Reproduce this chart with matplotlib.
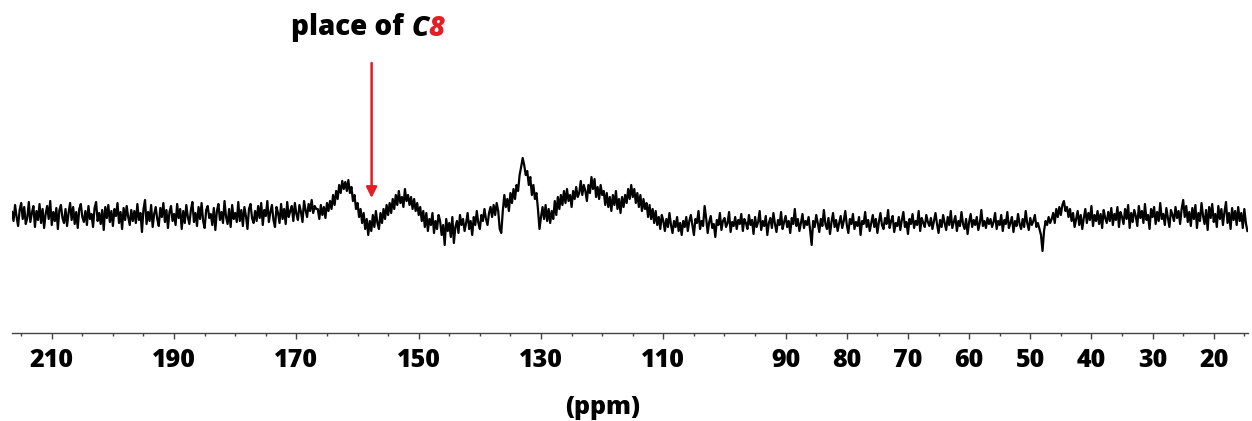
import numpy as np
import matplotlib
matplotlib.use("Agg")
import matplotlib.pyplot as plt

# ---- data ----
ppm_start, ppm_step = 216.5, 0.25
# each row covers 10 ppm (40 samples), from high ppm to low ppm
rows = [
    # 216.5 -> 206.75
    [3, -6, 10, -2, -11, 5, 12, -4, 8, -9, -3, 13, -7, 2, 9, -12, 4, -5, 11, -8,
     6, -13, 1, 9, -4, 14, -10, 3, -6, 7, -14, 5, 10, -3, -8, 6, -11, 2, 12, -5],
    # 206.5 -> 196.75
    [8, -9, 3, -13, 6, 11, -2, -7, 4, -10, 9, -4, 1, -12, 7, 13, -6, 2, -9, 5,
     -15, 8, -3, 10, -7, 4, -11, 6, -1, 12, -8, 3, -14, 7, -5, 9, -2, -10, 5, -6],
    # 196.5 -> 186.75
    [4, -8, 11, -5, 2, -17, 6, 15, -9, 3, -6, 10, -12, 1, 8, -4, -11, 7, -2, 12,
     -7, 5, -13, 3, 9, -6, 1, -10, 11, -3, 6, -14, 4, -8, 10, -2, -9, 5, 13, -7],
    # 186.5 -> 176.75
    [2, -11, 8, -4, 12, -6, -13, 5, 9, -3, 1, -10, 7, -15, 4, 11, -5, 3, -8, 14,
     -2, -9, 6, -12, 10, -4, 2, -7, 13, -6, 5, -11, 8, -1, -14, 6, 11, -3, -8, 4],
    # 176.5 -> 166.75
    [-6, 9, -3, 12, -10, 5, -1, 14, -7, 3, 10, -5, -12, 8, 2, -8, 11, -4, 6, -9,
     13, -2, 4, 9, -6, 12, 1, -5, 10, 3, -7, 14, 5, -2, 11, 4, 15, 2, 9, 6],
    # 166.5 -> 156.75
    [6, -4, 10, 0, 8, -3, 12, 4, 14, 6, 20, 10, 24, 16, 30, 22, 34, 26, 33, 24,
     35, 22, 28, 14, 20, 6, 12, -2, 6, -8, 2, -14, -4, -20, -6, -16, 0, -12, 4, -8],
    # 156.5 -> 146.75
    [-14, 2, -8, 6, -4, 10, 0, 12, 2, 16, 6, 20, 10, 24, 12, 18, 8, 26, 14, 20,
     10, 18, 6, 16, 4, 12, 0, 8, -6, 4, -12, 2, -16, -4, -10, 2, -18, -6, -14, 0],
    # 146.5 -> 136.75
    [-6, -20, -10, -30, -4, -16, -8, -22, -2, -28, -12, -6, -18, 0, -10, -4, -16, -8, 2, -14,
     -6, -20, -2, -10, 4, -8, -14, 0, -6, 6, -4, -10, 2, 8, -2, 10, 0, 12, 4, -14],
    # 136.5 -> 126.75
    [-18, 4, 20, 8, 16, 4, 22, 12, 26, 16, 30, 24, 40, 48, 57, 50, 40, 44, 30, 38,
     20, 30, 16, 22, 6, -14, -2, 8, -4, 10, -6, 6, -8, 4, -4, 14, 0, 18, 6, 20],
    # 126.5 -> 116.75
    [10, 24, 12, 26, 14, 20, 8, 24, 16, 28, 18, 22, 34, 20, 30, 24, 14, 30, 22, 38,
     26, 36, 18, 28, 16, 30, 20, 24, 10, 22, 8, 18, 4, 20, 10, 24, 6, 16, 2, 18],
    # 116.5 -> 106.75
    [8, 20, 12, 26, 16, 30, 18, 26, 12, 22, 8, 20, 4, 16, 6, 12, -2, 10, -4, 6,
     -8, 4, -10, -2, -14, 0, -6, -16, -4, -12, 2, -10, -18, -6, -12, -2, -16, -8, -20, -6],
    # 106.5 -> 96.75
    [-12, -2, -16, -6, 0, -10, -20, -4, -8, 4, -14, -6, -11, 9, -3, -18, -7, -1, -13, -9,
     -22, -5, -10, 2, -15, -6, -3, -12, -8, 3, -17, -7, -11, -2, -14, -5, -9, 1, -16, -4],
    # 96.5 -> 86.75
    [-8, -14, 0, -10, -5, -19, -2, -12, -7, 4, -15, -6, -11, -1, -20, -8, -3, -13, 2, -9,
     -17, -5, -10, 3, -14, -7, -1, -12, -6, -18, -3, -9, 6, -11, -4, -16, -8, 1, -13, -6],
    # 86.5 -> 76.75
    [-10, -2, -15, -30, -6, -12, 0, -8, -17, -4, -11, 5, -9, -14, -3, -19, -7, 2, -12, -5,
     -16, -8, -1, -13, -6, 4, -10, -18, -4, -9, 1, -14, -7, -11, -2, -20, -6, -9, 3, -12],
    # 76.5 -> 66.75
    [-5, -16, -8, 0, -12, -4, -18, -7, 2, -10, -14, -3, -9, 5, -13, -6, -1, -17, -8, -11,
     -2, -15, -5, 3, -12, -7, -19, -4, -9, 1, -13, -6, -10, 4, -16, -3, -8, -12, 0, -7],
    # 66.5 -> 56.75
    [-11, -3, -14, -6, 2, -9, -18, -5, -12, 0, -8, -15, -2, -10, 4, -13, -7, -1, -16, -6,
     -11, 3, -9, -14, -4, -19, -7, 1, -12, -5, -10, -2, -15, -8, 5, -11, -6, -13, -3, -9],
    # 56.5 -> 46.75
    [-4, -12, -7, 2, -14, -6, -10, 0, -16, -5, -9, 3, -13, -8, -2, -17, -6, -11, 1, -9,
     -14, -4, -12, 4, -8, -15, -3, -10, -6, 0, -12, -8, -14, -20, -36, -16, -6, -10, -2, -8],
    # 46.5 -> 36.75
    [-4, 2, -8, 6, -2, 8, 0, 10, 14, 4, 8, -2, 6, -6, 2, -12, -4, 4, -10, 0,
     -14, -3, 6, -8, 2, -5, 9, -11, 0, -6, 4, -9, 1, -13, 5, -3, -8, 3, -6, 7],
    # 36.5 -> 26.75
    [-10, 1, -5, 8, -12, 3, -2, -9, 6, -4, 10, -13, 2, -7, 5, -1, -11, 9, -3, 4,
     -8, 11, -5, 0, -14, 6, -2, 8, -9, 3, -6, 12, -4, 1, -10, 7, -3, -12, 5, 0],
    # 26.5 -> 16.75
    [-6, 8, -3, 4, -9, 6, 15, -2, 9, -7, 3, -11, 7, -4, 10, -13, 2, -6, 12, -1,
     -9, 5, -15, 8, -3, 11, -7, 1, -12, 9, -4, 6, -10, 3, 13, -8, 2, -14, 7, -5],
]
tail = [4, -10, 8, -6, 2, -13, 6, -8, -16]  # 16.5 -> 14.5

major_ticks = [210, 190, 170, 150, 130, 110, 90, 80, 70, 60, 50, 40, 30, 20]
minor_ticks = [215, 205, 200, 195, 185, 180, 175, 165, 160, 155, 145, 140, 135,
               125, 120, 115, 105, 100, 95, 85, 75, 65, 55, 45, 35, 25, 15]
arrow_ppm = 157.7
xlabel = "(ppm)"

bad = [(i, len(r)) for i, r in enumerate(rows) if len(r) != 40]
if bad:
    raise ValueError(f"row lengths wrong: {bad}")

intensity = np.array([v for r in rows for v in r] + tail, dtype=float)
ppm = ppm_start - ppm_step * np.arange(len(intensity))

W, H = 1252, 421
fig = plt.figure(figsize=(W / 100, H / 100), dpi=100)
fig.patch.set_facecolor("white")
ax = fig.add_axes([12 / W, 1 - 333 / H, (1248 - 12) / W, 333 / H])
ax.plot(ppm, intensity, color="black", lw=1.6)
ax.set_xlim(216.5, 14.4)
ax.set_ylim(-118, 215)

for s in ["left", "right", "top"]:
    ax.spines[s].set_visible(False)
ax.spines["bottom"].set_color("#444444")
ax.spines["bottom"].set_linewidth(1.0)
ax.set_yticks([])
ax.set_xticks(major_ticks)
ax.set_xticks(minor_ticks, minor=True)
ax.set_xticklabels([str(t) for t in major_ticks])
ax.tick_params(axis="x", which="major", length=4.5, width=1.0, color="#444444",
               pad=6, labelsize=18)
ax.tick_params(axis="x", which="minor", length=2.0, width=1.0, color="#444444")
for lab in ax.get_xticklabels():
    lab.set_fontfamily("Open Sans")
    lab.set_fontweight("heavy")

fig.text(603 / W, 1 - 407 / H, xlabel, ha="center", va="center",
         fontsize=18, fontweight="heavy", family="Open Sans")

# arrow
ax.annotate("", xy=(arrow_ppm, 17), xytext=(arrow_ppm, 152),
            arrowprops=dict(arrowstyle="-|>", color="#e31e24", lw=1.8,
                            mutation_scale=16, shrinkA=0, shrinkB=0))

# title with coloured pieces
fs = 20
parts = [("place of ", "black", "normal"), ("C", "black", "italic"), ("8", "#e31e24", "italic")]
texts = [fig.text(0, 1 - 28 / H, p, color=c, style=st, fontsize=fs, fontweight="heavy",
                  family="Open Sans", va="center", ha="left") for p, c, st in parts]
fig.canvas.draw()
r = fig.canvas.get_renderer()
widths = [t.get_window_extent(r).width for t in texts]
total = sum(widths)
x0 = 368 - total / 2
for t, w in zip(texts, widths):
    t.set_x(x0 / W)
    x0 += w

fig.savefig("out.png", dpi=100, facecolor="white")
